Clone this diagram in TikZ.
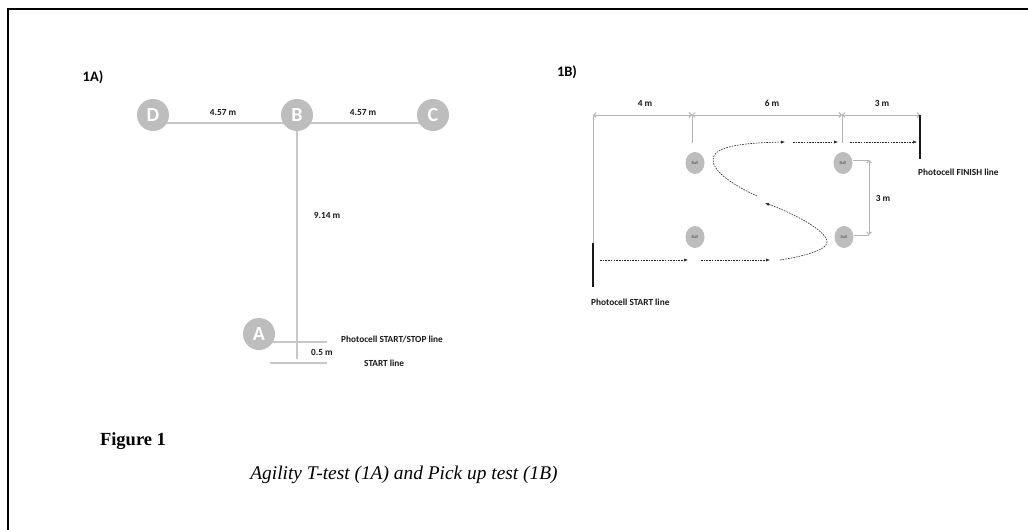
\documentclass[tikz,border=0pt]{standalone}
\usepackage{fontspec}
\newfontfamily\lbl{Carlito}
\newfontfamily\capserif{Liberation Serif}
\usetikzlibrary{arrows.meta,backgrounds,shapes.geometric}
\definecolor{cone}{HTML}{BDBDBD}
\definecolor{track}{HTML}{C8C8C8}
\definecolor{dimgrey}{HTML}{B4B4B4}
\tikzset{
  marker/.style={circle, fill=cone, minimum size=32pt, inner sep=0pt,
    text=white, font=\lbl\bfseries\fontsize{20}{20}\selectfont},
  ball/.style={ellipse, fill=cone, minimum width=19pt, minimum height=22pt,
    inner sep=0pt, font=\lbl\fontsize{4.5}{5}\selectfont, text=black!70},
  tline/.style={draw=track, line width=1.6pt},
  dimline/.style={draw=dimgrey, line width=0.9pt},
  dimarrow/.style={dimline, {Straight Barb[length=2.5pt,width=5pt]}-{Straight Barb[length=2.5pt,width=5pt]}},
  run/.style={draw=black!85, line width=0.6pt, dash pattern=on 1.6pt off 1.1pt,
    -{Latex[length=4pt,width=3.2pt]}},
  photo/.style={draw=black!90, line width=2.6pt},
  lab/.style={inner sep=0pt, font=\lbl\bfseries\fontsize{9.3}{10}\selectfont, text=black!90},
  panel/.style={inner sep=0pt, font=\lbl\bfseries\fontsize{14.5}{15}\selectfont},
}
\begin{document}
\begin{tikzpicture}[x=1pt, y=-1pt]
\useasboundingbox (0,0) rectangle (1028,530);
% outer frame (runs off the page on the right and bottom)
\draw[line width=2.6pt] (8,560) -- (8,9) -- (1060,9);

% ---------------- 1A: T-test ----------------
\node[panel] (pA) at (93,77) {1A)};
\node[marker] (D) at (153,115) {D};
\node[marker] (B) at (297,115) {B};
\node[marker] (C) at (433,115) {C};
\node[marker] (A) at (259,334) {A};
\coordinate (Tbase) at (297,359);
\coordinate (ps1) at (273,342);
\coordinate (ps2) at (327,342);
\coordinate (st1) at (270,363);
\coordinate (st2) at (327,363);
\begin{scope}[on background layer]
  \fill[white] (0,0) rectangle (1028,530);
  \draw[tline] ([yshift=-8pt]D.center) -- ([yshift=-8pt]B.center);
  \draw[tline] ([yshift=-8pt]B.center) -- ([yshift=-8pt]C.center);
  \draw[tline] (B.center) -- (Tbase);
  \draw[tline] (ps1) -- (ps2);
  \draw[tline] (st1) -- (st2);
\end{scope}
\node[lab] (l1) at (223,113) {4.57 m};
\node[lab] (l2) at (363,113) {4.57 m};
\node[lab] (l3) at (327,215) {9.14 m};
\node[lab] (l4) at (322,352) {0.5 m};
\node[lab, anchor=west] (l5) at (341,339) {Photocell START/STOP line};
\node[lab, anchor=west] (l6) at (364,363) {START line};

% ---------------- 1B: Pick up test ----------------
\node[panel] (pB) at (567,72) {1B)};
\node[ball] (b1) at (695,163) {Ball};
\node[ball] (b2) at (843,163) {Ball};
\node[ball] (b3) at (695,237) {Ball};
\node[ball] (b4) at (844,237) {Ball};

\coordinate (d0) at (593,115);
\coordinate (d1) at (692,115);
\coordinate (d2) at (842,115);
\coordinate (d3) at (920,115);
\draw[dimarrow] (d0) -- (d1);
\draw[dimarrow] (d1) -- (d2);
\draw[dimarrow] (d2) -- (d3);
\node[lab] (m1) at (645,103) {4 m};
\node[lab] (m2) at (772,103) {6 m};
\node[lab] (m3) at (882,103) {3 m};

% extension lines
\coordinate (s0) at (593,243);
\coordinate (s1) at (593,287);
\coordinate (e1) at (692,143);
\coordinate (e2) at (842,143);
\draw[dimline] (d0) -- (s0);
\draw[dimline] (d1) -- (e1);
\draw[dimline] (d2) -- (e2);

% photocell lines
\coordinate (f1) at (920,159);
\draw[photo] (s0) -- (s1);
\draw[photo] (d3) -- (f1);
\node[lab, anchor=west] (n1) at (918,172) {Photocell FINISH line};
\node[lab, anchor=west] (n2) at (591,302) {Photocell START line};

% 3 m spacing between the right-hand balls
\coordinate (r1) at (869,160);
\coordinate (r2) at (869,235);
\draw[dimline] (b2.east |- r1) -- (r1);
\draw[dimline] (b4.east |- r2) -- (r2);
\draw[dimarrow] (r1) -- (r2);
\node[lab] (m4) at (883,198) {3 m};

% running path
\coordinate (q1) at (600,260);  \coordinate (q2) at (688,260);
\coordinate (q3) at (701,260);  \coordinate (q4) at (770,260);
\coordinate (q5) at (780,260);  \coordinate (q6) at (765,203);
\coordinate (q7) at (757,196);  \coordinate (q8) at (785,142);
\coordinate (q9) at (793,142);  \coordinate (q10) at (838,142);
\coordinate (q11) at (850,142); \coordinate (q12) at (917,142);
\draw[run] (q1) -- (q2);
\draw[run] (q3) -- (q4);
\draw[run] (q5) .. controls (805,256) and (827,250) .. (827,242)
               .. controls (827,230) and (790,212) .. (q6);
\draw[run] (q7) .. controls (735,186) and (713,172) .. (713,160)
               .. controls (713,149) and (730,143) .. (q8);
\draw[run] (q9) -- (q10);
\draw[run] (q11) -- (q12);

% ---------------- caption ----------------
\node[inner sep=0pt, font=\capserif\bfseries\fontsize{18.5}{18.5}\selectfont] (fig) at (133,441) {Figure 1};
\node[inner sep=0pt, font=\capserif\itshape\fontsize{19.4}{19.4}\selectfont] (cap) at (404,475) {Agility T-test (1A) and Pick up test (1B)};
\end{tikzpicture}
\end{document}
